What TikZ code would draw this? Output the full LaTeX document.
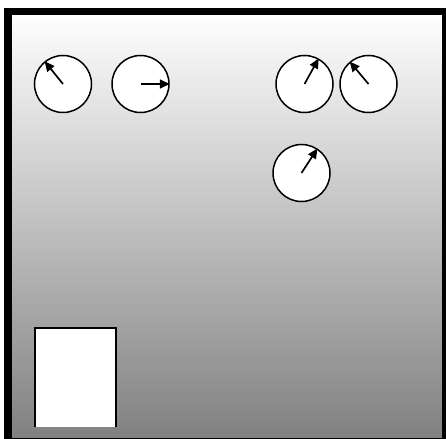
\documentclass[tikz,border=0pt]{standalone}
\usetikzlibrary{arrows.meta}
\begin{document}
\begin{tikzpicture}[x=1pt,y=-1pt,
  dial/.style={circle,draw,fill=white,line width=1.5pt,minimum size=57pt,inner sep=0pt},
  needle/.style={-{Triangle[length=10pt,width=9pt]},line width=1.7pt}]
\clip (0,0) rectangle (446,438);
\fill[white] (0,0) rectangle (446,438);
\shade[top color=white,bottom color=gray] (8,11.5) rectangle (446,442);
\draw[line width=7.5pt] (8,11.5) rectangle (446,442);
% door
\fill[white] (35,328) rectangle (116,427);
\draw[line width=2pt] (35,427) -- (35,328) -- (116,328) -- (116,427);
% dials
\node[dial] (dialA) at (63,84) {};
\node[dial] (dialB) at (140.5,84) {};
\node[dial] (dialC) at (304.5,84) {};
\node[dial] (dialD) at (368.5,84) {};
\node[dial] (dialE) at (301.5,173) {};
\draw[needle] (dialA.center) -- (dialA.129);
\draw[needle] (dialB.center) -- (dialB.0);
\draw[needle] (dialC.center) -- (dialC.61);
\draw[needle] (dialD.center) -- (dialD.130);
\draw[needle] (dialE.center) -- (dialE.57);
\end{tikzpicture}
\end{document}
